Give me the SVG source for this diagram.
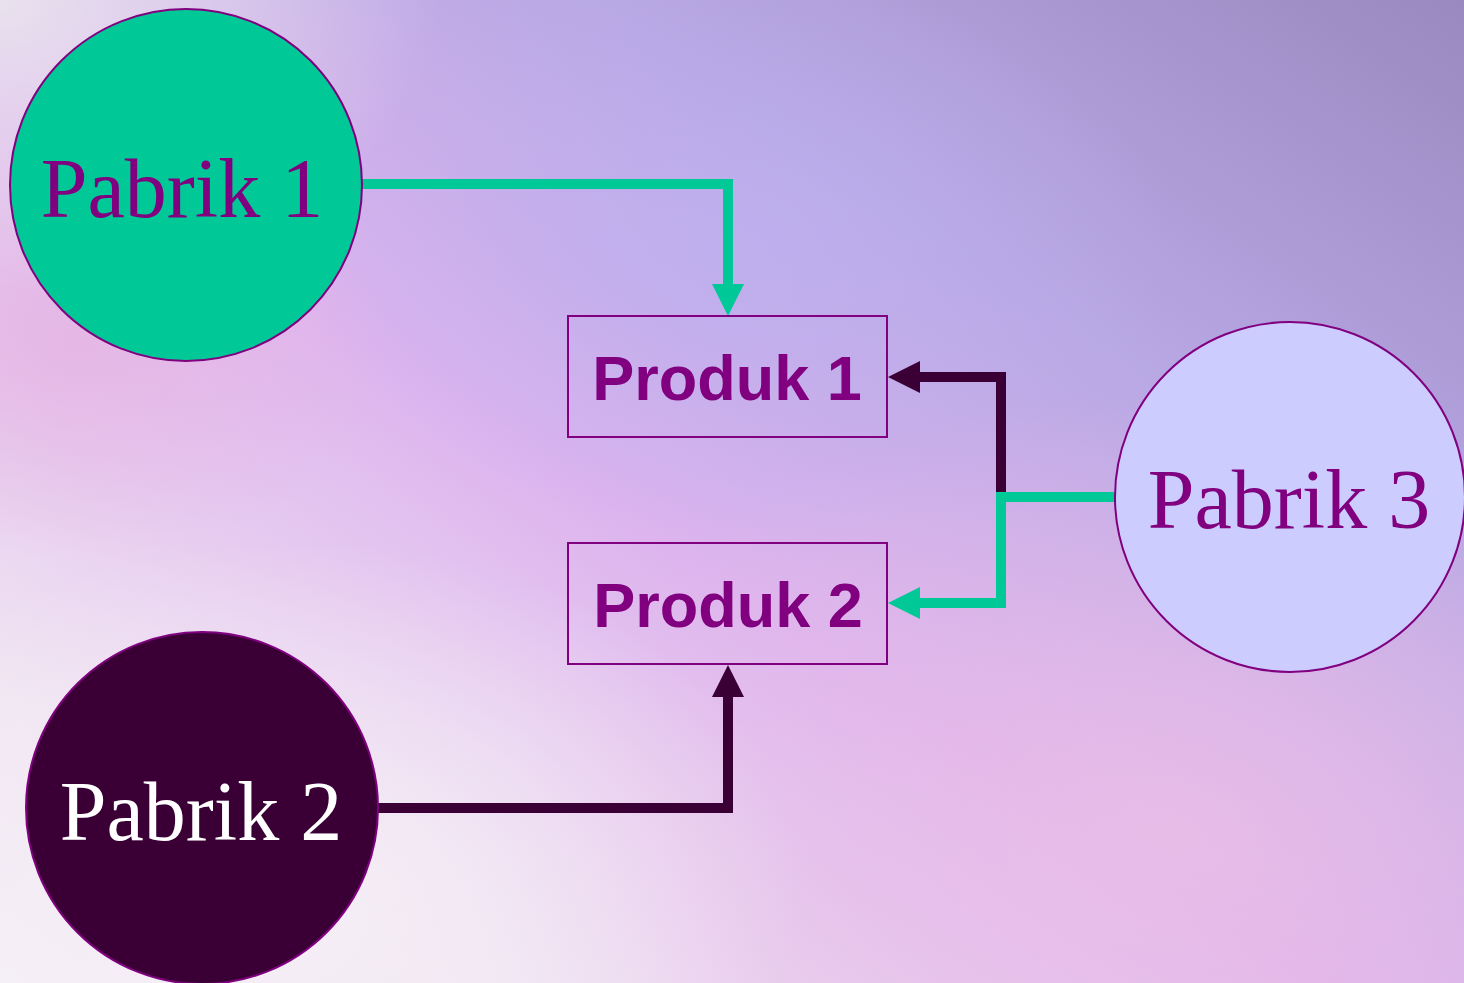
<svg xmlns="http://www.w3.org/2000/svg" width="1464" height="983" viewBox="0 0 1464 983">
<defs>
<linearGradient id="bg" x1="1" y1="0" x2="0" y2="1">
<stop offset="0" stop-color="#9A88C0"/>
<stop offset="0.3" stop-color="#B8A8E4"/>
<stop offset="0.55" stop-color="#DDB4EE"/>
<stop offset="0.85" stop-color="#F0E4F2"/>
<stop offset="1" stop-color="#F4EEF6"/>
</linearGradient>
<radialGradient id="pink1" cx="0.8" cy="0.85" r="0.45">
<stop offset="0" stop-color="#EABEE6" stop-opacity="0.85"/>
<stop offset="1" stop-color="#EABEE6" stop-opacity="0"/>
</radialGradient>
<radialGradient id="pink2" cx="0.05" cy="0.35" r="0.22">
<stop offset="0" stop-color="#E6B4E2" stop-opacity="0.8"/>
<stop offset="1" stop-color="#E6B4E2" stop-opacity="0"/>
</radialGradient>
<radialGradient id="tl" cx="0" cy="0" r="0.3">
<stop offset="0" stop-color="#EAE4EE" stop-opacity="0.95"/>
<stop offset="1" stop-color="#EAE4EE" stop-opacity="0"/>
</radialGradient>
<radialGradient id="lav" cx="0.5" cy="0.25" r="0.3">
<stop offset="0" stop-color="#BCB0F0" stop-opacity="0.7"/>
<stop offset="1" stop-color="#BCB0F0" stop-opacity="0"/>
</radialGradient>
<radialGradient id="bl" cx="0.2" cy="0.9" r="0.35">
<stop offset="0" stop-color="#F6F0F6" stop-opacity="0.9"/>
<stop offset="1" stop-color="#F6F0F6" stop-opacity="0"/>
</radialGradient>
</defs>
<style>
.pab{font-family:"Liberation Serif","Times New Roman",serif;font-size:84px;text-anchor:middle}
.prod{font-family:"Liberation Sans",Arial,sans-serif;font-size:63px;font-weight:bold;fill:#800080;text-anchor:middle}
.box{fill:none;stroke:#800080;stroke-width:2}
.node{stroke:#800080;stroke-width:2}
.cg{fill:none;stroke:#00C896;stroke-width:10}
.cd{fill:none;stroke:#3A0036;stroke-width:10}
.hg{fill:#00C896}
.hd{fill:#3A0036}
</style>
<rect width="1464" height="983" fill="url(#bg)"/>
<rect width="1464" height="983" fill="url(#pink1)"/>
<rect width="1464" height="983" fill="url(#pink2)"/>
<rect width="1464" height="983" fill="url(#lav)"/>
<rect width="1464" height="983" fill="url(#tl)"/>
<rect width="1464" height="983" fill="url(#bl)"/>
<g id="connectors">
<path class="cg" d="M362,184 H728 V286"/>
<polygon class="hg" points="712,284 744,284 728,316"/>
<path class="cd" d="M378,808 H728 V695"/>
<polygon class="hd" points="712,697 744,697 728,665"/>
<path class="cd" d="M1001,497 V377 H918"/>
<polygon class="hd" points="920,361 920,393 888,377"/>
<path class="cg" d="M1115,497 H1001 V603 H918"/>
<polygon class="hg" points="920,587 920,619 888,603"/>
</g>
<g id="pabrik1">
<circle class="node" cx="186" cy="185" r="176" fill="#00C896"/>
<text class="pab" x="182" y="217" fill="#800080">Pabrik 1</text>
</g>
<g id="pabrik2">
<circle class="node" cx="202" cy="808" r="176" fill="#3A0036"/>
<text class="pab" x="201" y="840" fill="#FFFFFF">Pabrik 2</text>
</g>
<g id="pabrik3">
<circle class="node" cx="1290" cy="497" r="175" fill="#CCCCFF"/>
<text class="pab" x="1289" y="528" fill="#800080">Pabrik 3</text>
</g>
<g id="produk1">
<rect class="box" x="568" y="316" width="319" height="121"/>
<text class="prod" x="727" y="400">Produk 1</text>
</g>
<g id="produk2">
<rect class="box" x="568" y="543" width="319" height="121"/>
<text class="prod" x="728" y="627">Produk 2</text>
</g>
</svg>
